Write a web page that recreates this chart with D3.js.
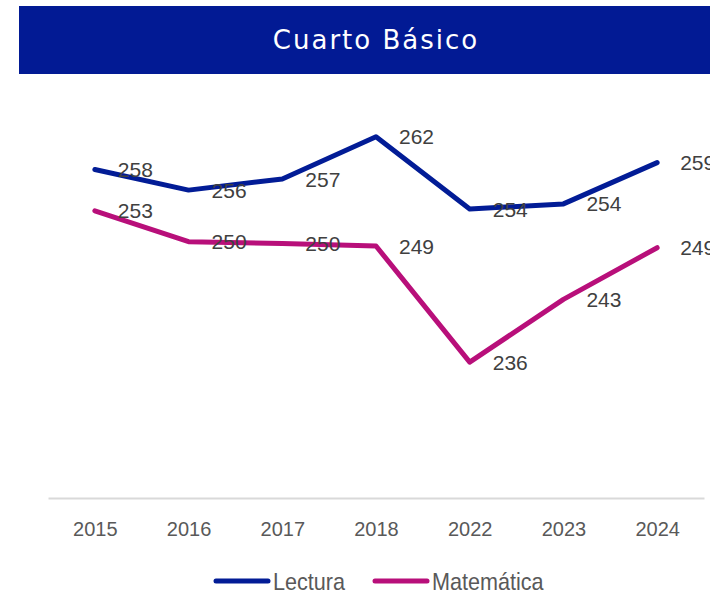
<!DOCTYPE html>
<html>
<head>
<meta charset="utf-8">
<script src="https://cdn.jsdelivr.net/npm/d3@7"></script>
<style>
    body { margin: 0; background: #fff; }
    svg { display: block; }
</style>
</head>
<body>
<div id="chart"></div>
<script>
// Data
const years = ["2015", "2016", "2017", "2018", "2022", "2023", "2024"];
const lectura = [258.2, 255.8, 257.1, 262.0, 253.6, 254.2, 259.0];
const matematica = [253.4, 249.8, 249.6, 249.3, 235.8, 243.1, 249.1];
const seriesNames = ["Lectura", "Matemática"];
const seriesColors = ["#021c96", "#b80f7a"];

const width = 710;
const height = 596;

const svg = d3.select("#chart")
    .append("svg")
    .attr("width", width)
    .attr("height", height);

// Title bar
svg.append("rect")
    .attr("x", 19)
    .attr("y", 6)
    .attr("width", width - 19)
    .attr("height", 68)
    .attr("fill", "#021a94");

svg.append("text")
    .attr("x", 376)
    .attr("y", 49)
    .attr("text-anchor", "middle")
    .attr("fill", "#fff")
    .style("font-family", "'DejaVu Sans', sans-serif")
    .style("font-size", "26px")
    .style("letter-spacing", "2px")
    .text("Cuarto Básico");

// Scales
const x = d3.scalePoint()
    .domain(years)
    .range([48, 704])
    .padding(0.5);

const y = d3.scaleLinear()
    .domain([220, 265])
    .range([498, 111]);

// X axis
const xAxis = svg.append("g")
    .attr("transform", "translate(0,498)")
    .call(d3.axisBottom(x).tickSize(0).tickSizeOuter(0).tickPadding(24));

xAxis.select(".domain")
    .attr("stroke", "#d9d9d9")
    .attr("stroke-width", 2);

xAxis.selectAll("text")
    .attr("fill", "#595959")
    .style("font-family", "'Liberation Sans', Arial, sans-serif")
    .style("font-size", "20px");

// Lines
const series = [
    { name: seriesNames[0], values: lectura, color: seriesColors[0] },
    { name: seriesNames[1], values: matematica, color: seriesColors[1] }
];

const line = d3.line()
    .x(function(d, i) { return x(years[i]); })
    .y(function(d) { return y(d); });

series.forEach(function(s) {

    svg.append("path")
        .datum(s.values)
        .attr("d", line)
        .attr("fill", "none")
        .attr("stroke", s.color)
        .attr("stroke-width", 5)
        .attr("stroke-linejoin", "round")
        .attr("stroke-linecap", "round");

    // Data labels, right of each point
    svg.append("g")
        .selectAll("text")
        .data(s.values)
        .enter()
        .append("text")
        .attr("x", function(d, i) { return x(years[i]) + 23; })
        .attr("y", function(d) { return y(d); })
        .attr("dy", "0.36em")
        .attr("fill", "#404040")
        .style("font-family", "'Liberation Sans', Arial, sans-serif")
        .style("font-size", "21px")
        .text(function(d) { return d3.format(".0f")(d); });
});

// Legend
const legendX = [214, 373];

series.forEach(function(s, i) {

    const g = svg.append("g")
        .attr("transform", "translate(" + legendX[i] + ",581)");

    g.append("line")
        .attr("x1", 2)
        .attr("x2", 54)
        .attr("stroke", s.color)
        .attr("stroke-width", 5)
        .attr("stroke-linecap", "round");

    // narrow-looking legend text
    g.append("text")
        .attr("transform", "translate(59,0) scale(0.9,1)")
        .attr("dy", "0.36em")
        .attr("fill", "#595959")
        .style("font-family", "'Liberation Sans', Arial, sans-serif")
        .style("font-size", "24px")
        .text(s.name);
});
</script>
</body>
</html>
